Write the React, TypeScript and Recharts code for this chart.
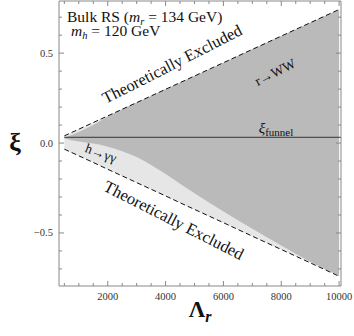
import React from 'react';
import { ComposedChart, Area, Line, XAxis, YAxis, ReferenceLine, ReferenceDot } from 'recharts';

// ---- data ----
const lambdaR = [500, 1000, 1500, 2000, 2500, 3000, 3500, 4000, 4500, 5000, 6000, 7000, 8000, 9000, 10000];
const xiUpperBound = [0.04, 0.077, 0.114, 0.151, 0.188, 0.225, 0.262, 0.299, 0.336, 0.373, 0.447, 0.521, 0.595, 0.669, 0.743];
const xiLowerBound = [-0.034, -0.071, -0.108, -0.146, -0.183, -0.22, -0.257, -0.294, -0.332, -0.369, -0.443, -0.518, -0.592, -0.666, -0.741];
const wwExclUpper = [0.03, 0.062, 0.1, 0.148, 0.188, 0.225, 0.262, 0.299, 0.336, 0.373, 0.447, 0.521, 0.595, 0.669, 0.743];
const wwExclLower = [0.025, 0.008, -0.003, -0.02, -0.045, -0.078, -0.122, -0.172, -0.226, -0.279, -0.38, -0.476, -0.57, -0.66, -0.738];
const xiFunnel = 0.032;

const xTicks = [500, 1000, 1500, 2000, 2500, 3000, 3500, 4000, 4500, 5000, 5500, 6000, 6500, 7000, 7500, 8000, 8500, 9000, 9500, 10000];
const xMajor = [2000, 4000, 6000, 8000, 10000];
const yTicks = [-0.7, -0.6, -0.5, -0.4, -0.3, -0.2, -0.1, 0, 0.1, 0.2, 0.3, 0.4, 0.5, 0.6, 0.7];
const yMajor = [-0.5, 0, 0.5];
const yTickLabels: Record<string, string> = { '-0.5': '\u22120.5', '0': '0.0', '0.5': '0.5' };

const xDomain: [number, number] = [315, 10065];
const yDomain: [number, number] = [-0.795, 0.79];

type Note = { x: number; y: number; kind: string; angle: number };
const notes: Note[] = [
  { x: 592, y: 0.673, kind: 'bulk', angle: 0 },
  { x: 730, y: 0.593, kind: 'mh', angle: 0 },
  { x: 4222, y: 0.44, kind: 'theoUp', angle: -27 },
  { x: 7783, y: 0.395, kind: 'ww', angle: -27 },
  { x: 7818, y: 0.084, kind: 'funnel', angle: 0 },
  { x: 1767, y: -0.055, kind: 'hgg', angle: 20 },
  { x: 4291, y: -0.428, kind: 'theoLo', angle: 27 },
];

const rows = lambdaR.map((v, i) => ({
  v,
  upper: xiUpperBound[i],
  lower: xiLowerBound[i],
  wedge: [xiLowerBound[i], xiUpperBound[i]],
  ww: [wwExclLower[i], wwExclUpper[i]],
}));

const FONT = '"Liberation Serif", "DejaVu Serif", serif';
const AXIS = '#888';
const LABEL = '#333';

const BottomTick = (p: any) => {
  const v = p.payload.value;
  const major = xMajor.includes(v);
  return (
    <g>
      <line x1={p.x} x2={p.x} y1={p.y} y2={p.y - (major ? 5 : 3)} stroke={AXIS} strokeWidth={1} />
      {major && (
        <text x={p.x} y={p.y + 13.5} textAnchor="middle" fontFamily={FONT} fontSize={10.5} fill={LABEL}>
          {v}
        </text>
      )}
    </g>
  );
};
const TopTick = (p: any) => {
  const major = xMajor.includes(p.payload.value);
  return <line x1={p.x} x2={p.x} y1={p.y} y2={p.y + (major ? 5 : 3)} stroke={AXIS} strokeWidth={1} />;
};
const LeftTick = (p: any) => {
  const v = p.payload.value;
  const major = yMajor.includes(v);
  return (
    <g>
      <line x1={p.x} x2={p.x + (major ? 5 : 3)} y1={p.y} y2={p.y} stroke={AXIS} strokeWidth={1} />
      {major && (
        <text x={p.x - 6} y={p.y + 3.5} textAnchor="end" fontFamily={FONT} fontSize={10.5} fill={LABEL}>
          {yTickLabels[String(v)]}
        </text>
      )}
    </g>
  );
};
const RightTick = (p: any) => {
  const major = yMajor.includes(p.payload.value);
  return <line x1={p.x} x2={p.x - (major ? 5 : 3)} y1={p.y} y2={p.y} stroke={AXIS} strokeWidth={1} />;
};

const renderNote = (n: Note) => (p: any) => {
  const { cx, cy } = p;
  const tr = `rotate(${n.angle} ${cx} ${cy})`;
  const common = { fontFamily: FONT, fill: '#111' };
  switch (n.kind) {
    case 'bulk':
      return (
        <text x={cx} y={cy} fontSize={15.5} {...common}>
          <tspan>Bulk RS (</tspan>
          <tspan fontStyle="italic">m</tspan>
          <tspan fontStyle="italic" fontSize={10.5} dy={3}>r</tspan>
          <tspan dy={-3}> = 134 GeV)</tspan>
        </text>
      );
    case 'mh':
      return (
        <text x={cx} y={cy} fontSize={15.5} {...common}>
          <tspan fontStyle="italic">m</tspan>
          <tspan fontStyle="italic" fontSize={10.5} dy={3}>h</tspan>
          <tspan dy={-3}> = 120 GeV</tspan>
        </text>
      );
    case 'theoUp':
    case 'theoLo':
      return (
        <text x={cx} y={cy} dy="0.35em" textAnchor="middle" transform={tr} fontSize={16.5} {...common}>
          Theoretically Excluded
        </text>
      );
    case 'ww':
      return (
        <text x={cx} y={cy} dy="0.35em" textAnchor="middle" transform={tr} fontSize={13.5} {...common}>
          r{'\u2192'}WW
        </text>
      );
    case 'hgg':
      return (
        <text x={cx} y={cy} dy="0.35em" textAnchor="middle" transform={tr} fontSize={13.5} {...common}>
          h{'\u2192'}{'\u03b3\u03b3'}
        </text>
      );
    case 'funnel':
      return (
        <text x={cx} y={cy} dy="0.35em" textAnchor="middle" fontSize={15} {...common}>
          <tspan fontStyle="italic">{'\u03be'}</tspan>
          <tspan fontSize={11} dy={3}>funnel</tspan>
        </text>
      );
    default:
      return <g />;
  }
};

const XTitle = (p: any) => {
  const vb = p.viewBox || {};
  return (
    <text x={vb.x + vb.width / 2} y={vb.y + 31} textAnchor="middle" fontFamily={FONT} fontWeight="bold" fill="#111">
      <tspan fontSize={23}>{'\u039b'}</tspan>
      <tspan fontSize={16} fontStyle="italic" dy={5}>r</tspan>
    </text>
  );
};
const YTitle = (p: any) => {
  const vb = p.viewBox || {};
  return (
    <text x={vb.x + vb.width - 44} y={vb.y + vb.height / 2} dy="0.3em" textAnchor="middle" fontFamily={FONT} fontWeight="bold" fontSize={26} fill="#111">
      {'\u03be'}
    </text>
  );
};

export default function App() {
  return (
    <div style={{ position: 'absolute', left: 0, top: 0, width: 354, height: 336, background: '#fff' }}>
      <ComposedChart width={354} height={336} data={rows} margin={{ top: 0, right: 12, bottom: 49, left: 58 }}>
        <XAxis
          xAxisId="b"
          dataKey="v"
          type="number"
          domain={xDomain}
          ticks={xTicks}
          interval={0}
          orientation="bottom"
          height={1}
          tickSize={0}
          tickMargin={0}
          tickLine={false}
          tick={<BottomTick />}
          axisLine={{ stroke: AXIS }}
          allowDataOverflow
          label={XTitle}
        />
        <XAxis
          xAxisId="t"
          dataKey="v"
          type="number"
          domain={xDomain}
          ticks={xTicks}
          interval={0}
          orientation="top"
          height={1}
          tickSize={0}
          tickMargin={0}
          tickLine={false}
          tick={<TopTick />}
          axisLine={{ stroke: AXIS }}
          allowDataOverflow
        />
        <YAxis
          yAxisId="l"
          type="number"
          domain={yDomain}
          ticks={yTicks}
          interval={0}
          orientation="left"
          width={1}
          tickSize={0}
          tickMargin={0}
          tickLine={false}
          tick={<LeftTick />}
          axisLine={{ stroke: AXIS }}
          allowDataOverflow
          label={YTitle}
        />
        <YAxis
          yAxisId="r"
          type="number"
          domain={yDomain}
          ticks={yTicks}
          interval={0}
          orientation="right"
          width={1}
          tickSize={0}
          tickMargin={0}
          tickLine={false}
          tick={<RightTick />}
          axisLine={{ stroke: AXIS }}
          allowDataOverflow
        />
        <Area xAxisId="b" yAxisId="l" dataKey="wedge" type="linear" stroke="none" fill="#e6e6e6" fillOpacity={1} isAnimationActive={false} />
        <Area xAxisId="b" yAxisId="l" dataKey="ww" type="monotone" stroke="none" fill="#bababa" fillOpacity={1} isAnimationActive={false} />
        <ReferenceLine
          xAxisId="b"
          yAxisId="l"
          segment={[{ x: lambdaR[0], y: xiFunnel }, { x: xDomain[1], y: xiFunnel }]}
          stroke="#333"
          strokeWidth={1}
        />
        <Line xAxisId="b" yAxisId="l" dataKey="upper" type="linear" stroke="#111" strokeWidth={1} strokeDasharray="5 3" dot={false} isAnimationActive={false} />
        <Line xAxisId="b" yAxisId="l" dataKey="lower" type="linear" stroke="#111" strokeWidth={1} strokeDasharray="5 3" dot={false} isAnimationActive={false} />
        {notes.map((n) => (
          <ReferenceDot key={n.kind} xAxisId="b" yAxisId="l" x={n.x} y={n.y} r={0} ifOverflow="visible" shape={renderNote(n)} />
        ))}
      </ComposedChart>
    </div>
  );
}
